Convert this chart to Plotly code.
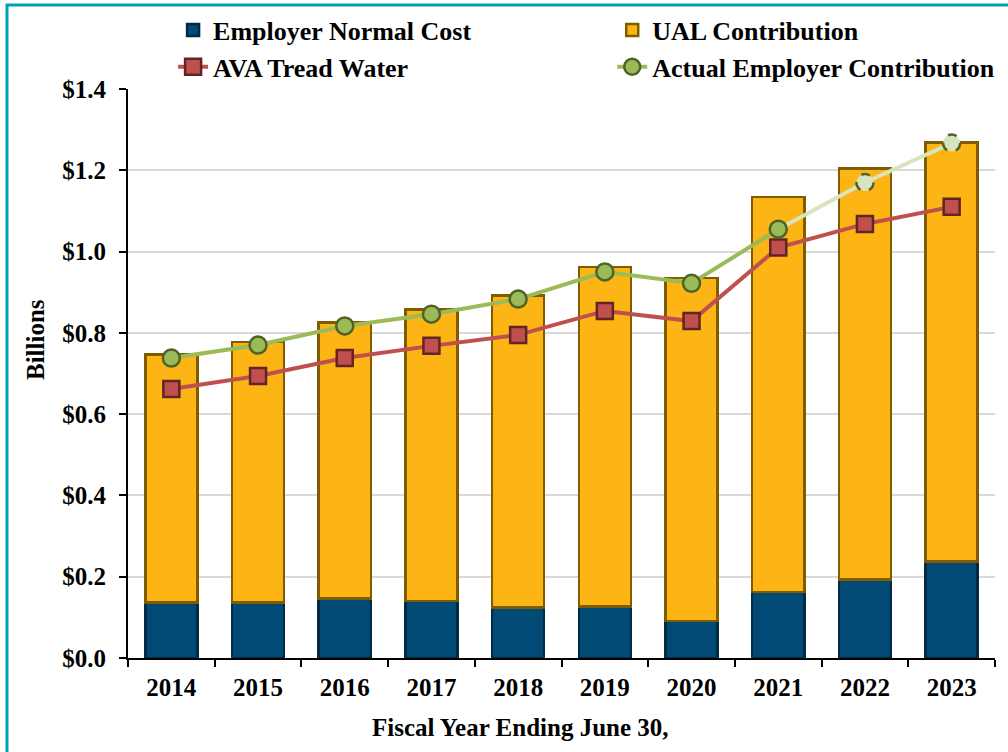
import plotly.graph_objects as go

# ── Dados (bilhões de US$) ─────────────────────────────────────────────────────
anos = ["2014", "2015", "2016", "2017", "2018", "2019", "2020", "2021", "2022", "2023"]
custo_normal = [0.136, 0.137, 0.146, 0.140, 0.124, 0.127, 0.091, 0.162, 0.193, 0.238]
total_contrib = [0.747, 0.778, 0.825, 0.857, 0.892, 0.962, 0.935, 1.134, 1.205, 1.268]
ual = [round(t - n, 3) for t, n in zip(total_contrib, custo_normal)]
ava_tread = [0.662, 0.694, 0.738, 0.768, 0.795, 0.854, 0.829, 1.010, 1.068, 1.110]
contrib_real = [0.738, 0.770, 0.817, 0.846, 0.883, 0.950, 0.922, 1.055, 1.170, 1.267]
inicio_proj = 8  # 2022 em diante = valores projetados

FONTE = dict(family="Liberation Serif, Times New Roman, serif", color="black", weight="bold")
NAVY, NAVY_BORDA = "#004a75", "#012a44"
OURO, OURO_BORDA = "#fdb515", "#7f5c00"
VERM, VERM_BORDA = "#c0504d", "#632523"
VERDE, VERDE_BORDA, VERDE_CLARO = "#9bbb59", "#4f6228", "#d7e4bd"

fig = go.Figure()
fig.add_trace(go.Bar(
    name="Employer Normal Cost", x=anos, y=custo_normal, legend="legend",
    marker=dict(color=NAVY, line=dict(color=NAVY_BORDA, width=2.5)),
))
fig.add_trace(go.Bar(
    name="UAL Contribution", x=anos, y=ual, legend="legend2",
    marker=dict(color=OURO, line=dict(color=OURO_BORDA, width=2.5)),
))
fig.add_trace(go.Scatter(
    name="AVA Tread Water", x=anos, y=ava_tread, mode="lines+markers", legend="legend",
    line=dict(color=VERM, width=4),
    marker=dict(symbol="square", size=16, color=VERM, line=dict(color=VERM_BORDA, width=2.5)),
))
# trecho projetado (linha clara)
fig.add_trace(go.Scatter(
    x=anos[inicio_proj - 1:], y=contrib_real[inicio_proj - 1:], mode="lines",
    line=dict(color=VERDE_CLARO, width=4), showlegend=False, hoverinfo="skip",
))
fig.add_trace(go.Scatter(
    name="Actual Employer Contribution", x=anos[:inicio_proj], y=contrib_real[:inicio_proj],
    mode="lines+markers", legend="legend2", line=dict(color=VERDE, width=4),
    marker=dict(symbol="circle", size=17, color=VERDE, line=dict(color=VERDE_BORDA, width=2.5)),
))

# marcadores projetados com contorno tracejado (âncora = índice da categoria)
shapes = []
for i in range(inicio_proj, len(anos)):
    shapes.append(dict(
        type="circle", xref="x", yref="y", xsizemode="pixel", ysizemode="pixel",
        xanchor=i, yanchor=contrib_real[i], x0=-8.5, x1=8.5, y0=-8.5, y1=8.5,
        fillcolor=VERDE_CLARO, line=dict(color=VERDE_BORDA, width=2.5, dash="dash"),
        layer="above",
    ))

# moldura azul-petróleo
L, R, T, B = 128, 13, 89, 94
W, H = 1008, 752
pw, ph = W - L - R, H - T - B
shapes.append(dict(
    type="rect", xref="paper", yref="paper",
    x0=(7 - L) / pw, x1=(W + 20 - L) / pw,
    y0=-(H + 20 - (H - B)) / ph, y1=1 + (T - 5) / ph,
    line=dict(color="#00a3b4", width=3), fillcolor="rgba(0,0,0,0)", layer="below",
))

leg = dict(
    orientation="v", xanchor="left", y=1.145, yanchor="top", traceorder="normal",
    font=dict(**FONTE, size=26), bgcolor="rgba(0,0,0,0)", itemsizing="trace",
)

# títulos dos eixos como anotações (posição igual à original)
titulos = [
    dict(text="Fiscal Year Ending June 30,", xref="paper", yref="paper",
         x=(520 - L) / pw, y=-(727 - (H - B)) / ph, showarrow=False,
         xanchor="center", yanchor="middle", font=dict(**FONTE, size=25)),
    dict(text="Billions", xref="paper", yref="paper", textangle=-90,
         x=(35 - L) / pw, y=(H - B - 340) / ph, showarrow=False,
         xanchor="center", yanchor="middle", font=dict(**FONTE, size=25)),
]

fig.update_layout(
    barmode="stack", bargap=0.4,
    width=W, height=H,
    margin=dict(l=L, r=R, t=T, b=B, autoexpand=False),
    paper_bgcolor="white", plot_bgcolor="white",
    font=dict(**FONTE, size=25),
    shapes=shapes, annotations=titulos,
    legend=dict(leg, x=0.052),
    legend2=dict(leg, x=0.5585),
    xaxis=dict(
        type="category", range=[-0.5, len(anos) - 0.5],
        showline=True, linecolor="black", linewidth=2,
        ticks="outside", tickson="boundaries", ticklen=7, tickwidth=1.5, tickcolor="black",
        ticklabelstandoff=6,
        tickfont=dict(**FONTE, size=25),
    ),
    yaxis=dict(
        range=[0, 1.4], dtick=0.2, tickprefix="$", tickformat=".1f",
        showline=True, linecolor="black", linewidth=2,
        ticks="outside", ticklen=7, tickwidth=1.5, tickcolor="black",
        ticklabelstandoff=8,
        gridcolor="#d9d9d9", gridwidth=1.5, zeroline=False,
        tickfont=dict(**FONTE, size=25),
    ),
)

fig.write_html("out.html", config={"displayModeBar": False},
               post_script="document.body.style.margin='0';")
